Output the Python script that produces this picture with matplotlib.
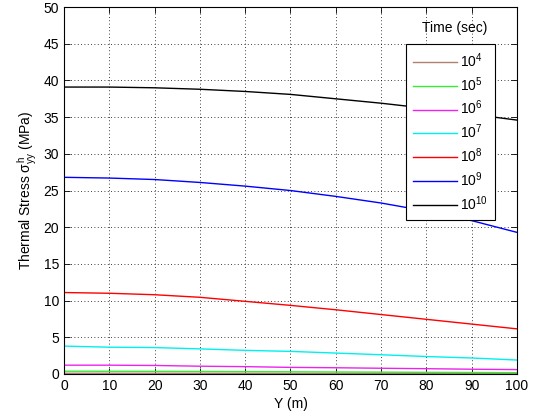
import matplotlib
matplotlib.use("Agg")
import matplotlib.pyplot as plt
import numpy as np

plt.rcParams['font.family'] = ['Liberation Sans', 'DejaVu Sans']
plt.rcParams['mathtext.fontset'] = 'custom'
plt.rcParams['mathtext.rm'] = 'Liberation Sans'
plt.rcParams['mathtext.it'] = 'Liberation Sans'

y_m = [0, 10, 20, 30, 40, 50, 60, 70, 80, 90, 100]
s_1e4 = [0.10, 0.10, 0.10, 0.09, 0.09, 0.08, 0.08, 0.07, 0.07, 0.06, 0.06]
s_1e5 = [0.38, 0.37, 0.36, 0.34, 0.32, 0.30, 0.27, 0.25, 0.22, 0.20, 0.18]
s_1e6 = [1.20, 1.20, 1.16, 1.06, 1.00, 0.90, 0.85, 0.78, 0.72, 0.65, 0.60]
s_1e7 = [3.80, 3.65, 3.60, 3.42, 3.22, 3.08, 2.85, 2.62, 2.38, 2.18, 1.90]
s_1e8 = [11.1, 11.0, 10.8, 10.45, 9.9, 9.35, 8.75, 8.1, 7.45, 6.8, 6.15]
s_1e9 = [26.8, 26.7, 26.5, 26.1, 25.6, 25.0, 24.2, 23.3, 22.2, 20.9, 19.3]
s_1e10 = [39.1, 39.1, 39.0, 38.8, 38.5, 38.1, 37.5, 36.9, 36.2, 35.4, 34.6]

series = [s_1e4, s_1e5, s_1e6, s_1e7, s_1e8, s_1e9, s_1e10]
labels = ['$10^{4}$', '$10^{5}$', '$10^{6}$', '$10^{7}$', '$10^{8}$', '$10^{9}$', '$10^{10}$']
colors = ['#b08070', '#33ee33', '#ee22ee', '#00f0f0', '#ff0000', '#0000ff', '#000000']

fig = plt.figure(figsize=(5.49, 4.16), dpi=100)
ax = fig.add_axes([0.1166, 0.101, 0.825, 0.882])
for s, lab, c in zip(series, labels, colors):
    ax.plot(y_m, s, color=c, lw=1.0, label=lab)

ax.set_xlim(0, 100)
ax.set_ylim(0, 50)
ax.set_xticks(np.arange(0, 101, 10))
ax.set_yticks(np.arange(0, 51, 5))
ax.grid(True, color='black', linestyle=(0, (1, 3)), linewidth=0.6)
ax.tick_params(direction='in', top=True, right=True, labelsize=10, length=4, width=0.6)
for sp in ax.spines.values():
    sp.set_linewidth(0.8)
ax.set_xlabel('Y (m)', fontsize=10, labelpad=3)
ax.set_ylabel(r'Thermal Stress $\sigma^{h}_{yy}$ (MPa)', fontsize=10, labelpad=3)

leg = ax.legend(loc='upper left', bbox_to_anchor=(0.755, 0.899), fontsize=10,
                frameon=True, fancybox=False, edgecolor='black', framealpha=1,
                handlelength=3.2, labelspacing=0.38, borderpad=0.5, handletextpad=0.2,
                borderaxespad=0)
leg.get_frame().set_linewidth(0.8)
ax.text(0.862, 0.943, 'Time (sec)', transform=ax.transAxes, ha='center', va='center',
        fontsize=10)

fig.savefig('out.png', dpi=100)
